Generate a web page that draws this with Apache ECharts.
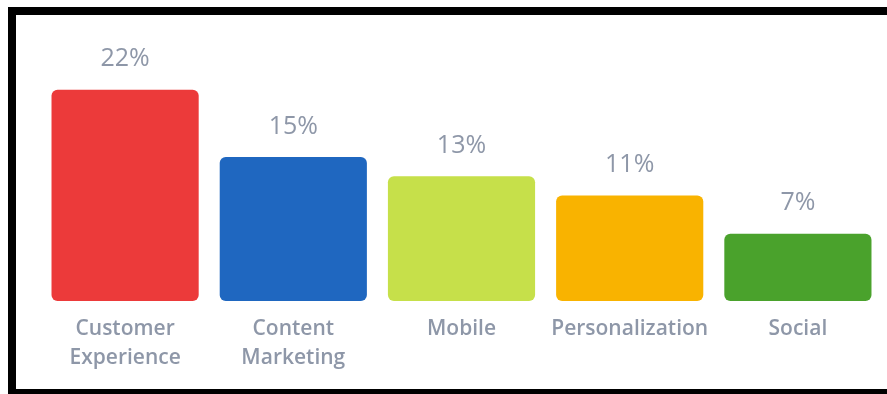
<!DOCTYPE html>
<html>
<head>
<meta charset="utf-8">
<script src="https://cdn.jsdelivr.net/npm/echarts@6/dist/echarts.min.js"></script>
<style>
  html, body { margin: 0; padding: 0; background: #ffffff; }
  #chart { width: 887px; height: 394px; }
</style>
</head>
<body>
<div id="chart"></div>
<script>
// Share of respondents by priority area
const categories = ['Customer\nExperience', 'Content\nMarketing', 'Mobile', 'Personalization', 'Social'];
const values = [22, 15, 13, 11, 7];
const barColors = ['#EC3A3A', '#1F67C0', '#C6E04A', '#F9B300', '#4AA22C'];

const chart = echarts.init(document.getElementById('chart'));
const textColor = '#8E97A8';

chart.setOption({
  animation: false,
  grid: { left: 41, right: 5, top: 13, bottom: 93, containLabel: false },
  xAxis: {
    type: 'category',
    data: categories,
    axisLine: { show: false },
    axisTick: { show: false },
    axisLabel: {
      color: textColor,
      fontFamily: 'Open Sans',
      fontSize: 21,
      fontWeight: 600,
      lineHeight: 29,
      margin: 14,
      interval: 0
    }
  },
  yAxis: {
    type: 'value',
    min: 0,
    max: 30,
    show: false,
    splitLine: { show: false }
  },
  series: [{
    type: 'bar',
    data: values.map((v, i) => ({ value: v, itemStyle: { color: barColors[i] } })),
    barWidth: '87.5%',
    itemStyle: { borderRadius: 6 },
    label: {
      show: true,
      position: 'top',
      distance: 18,
      formatter: '{c}%',
      color: textColor,
      fontFamily: 'Open Sans',
      fontSize: 25,
      fontWeight: 'normal'
    }
  }],
  graphic: [
    { type: 'rect', shape: { x: 8, y: 7, width: 879, height: 8 }, style: { fill: '#000' }, silent: true },
    { type: 'rect', shape: { x: 8, y: 7, width: 8, height: 387 }, style: { fill: '#000' }, silent: true },
    { type: 'rect', shape: { x: 8, y: 389, width: 879, height: 5 }, style: { fill: '#000' }, silent: true }
  ]
});
</script>
</body>
</html>
